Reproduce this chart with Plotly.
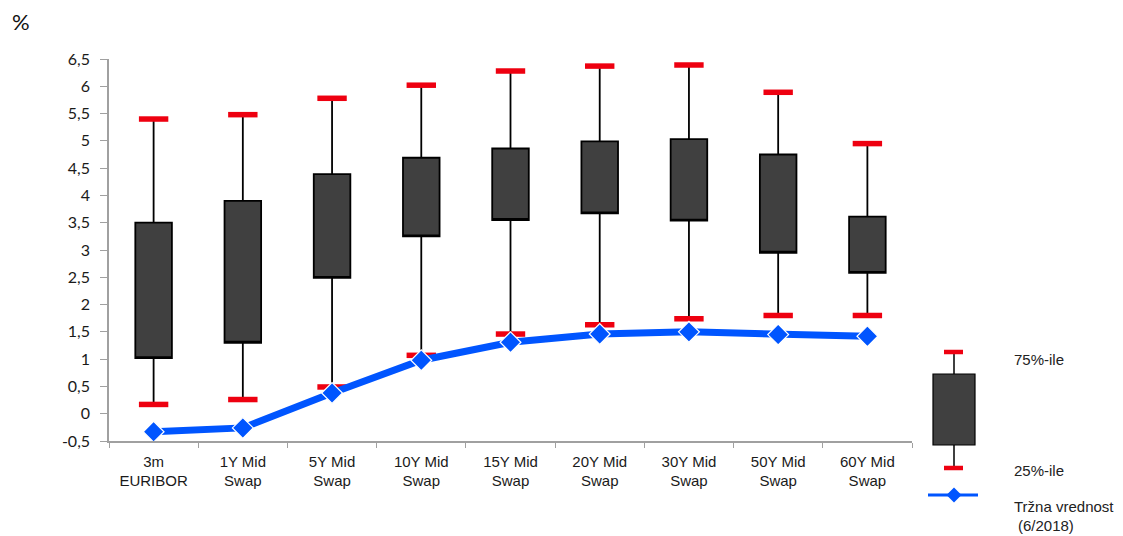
import plotly.graph_objects as go

categories = ["3m<br>EURIBOR", "1Y Mid<br>Swap", "5Y Mid<br>Swap", "10Y Mid<br>Swap", "15Y Mid<br>Swap",
              "20Y Mid<br>Swap", "30Y Mid<br>Swap", "50Y Mid<br>Swap", "60Y Mid<br>Swap"]
max_vals = [5.40, 5.48, 5.78, 6.02, 6.28, 6.37, 6.39, 5.89, 4.95]
q3_vals = [3.50, 3.90, 4.39, 4.69, 4.86, 4.99, 5.03, 4.75, 3.61]
q1_vals = [1.02, 1.30, 2.49, 3.25, 3.55, 3.67, 3.54, 2.95, 2.58]
min_vals = [0.17, 0.26, 0.49, 1.07, 1.46, 1.63, 1.74, 1.80, 1.80]
market_vals = [-0.33, -0.26, 0.38, 0.98, 1.31, 1.46, 1.50, 1.45, 1.42]
ytick_vals = [-0.5, 0, 0.5, 1, 1.5, 2, 2.5, 3, 3.5, 4, 4.5, 5, 5.5, 6, 6.5]
ytick_text = ["-0,5", "0", "0,5", "1", "1,5", "2", "2,5", "3", "3,5", "4", "4,5", "5", "5,5", "6", "6,5"]

BOX_FILL = "#404040"
RED = "#ee0010"
BLUE = "#0055ff"

fig = go.Figure()

fig.add_trace(go.Box(
    x=categories, q1=q1_vals, median=q1_vals, q3=q3_vals,
    lowerfence=min_vals, upperfence=max_vals,
    fillcolor=BOX_FILL, line=dict(color="black", width=1.8),
    whiskerwidth=0, width=0.41, boxpoints=False, showlegend=False, hoverinfo="skip"))

fig.add_trace(go.Scatter(
    x=categories + categories, y=max_vals + min_vals, mode="markers",
    marker=dict(symbol="line-ew", size=21, line=dict(color=RED, width=5.5)),
    showlegend=False, hoverinfo="skip"))

fig.add_trace(go.Scatter(
    x=categories, y=market_vals, mode="lines+markers",
    line=dict(color=BLUE, width=7),
    marker=dict(symbol="diamond", size=16, color=BLUE, line=dict(color="white", width=1.2)),
    showlegend=False))

OFF = 8  # page body margin
W, H = 1123, 536
L, T = 109 - OFF, 59 - OFF
R = W - (912 - OFF)
B = H - (441 - OFF)
pw, ph = W - L - R, H - T - B

def px(x):
    return (x - OFF - L) / pw

def py(y):
    return (H - B - (y - OFF)) / ph

shapes = [
    dict(type="line", xref="paper", yref="paper", x0=px(954), x1=px(954), y0=py(352), y1=py(468),
         line=dict(color="black", width=1.5)),
    dict(type="rect", xref="paper", yref="paper", x0=px(933), x1=px(975), y0=py(374), y1=py(445),
         fillcolor=BOX_FILL, line=dict(color="black", width=1.2)),
    dict(type="line", xref="paper", yref="paper", x0=px(944), x1=px(963), y0=py(352), y1=py(352),
         line=dict(color=RED, width=4.5)),
    dict(type="line", xref="paper", yref="paper", x0=px(944), x1=px(963), y0=py(468), y1=py(468),
         line=dict(color=RED, width=4.5)),
    dict(type="line", xref="paper", yref="paper", x0=px(928), x1=px(978), y0=py(495), y1=py(495),
         line=dict(color=BLUE, width=3)),
    dict(type="path", xref="paper", yref="paper",
         path=f"M {px(954)},{py(487.5)} L {px(961.5)},{py(495)} L {px(954)},{py(502.5)} L {px(946.5)},{py(495)} Z",
         fillcolor=BLUE, line=dict(color=BLUE, width=0)),
]

font_leg = dict(family="Liberation Sans, Arial", size=15, color="#222222")
annotations = [
    dict(text="%", xref="paper", yref="paper", x=px(10), y=py(22), xanchor="left", yanchor="middle",
         showarrow=False, font=dict(family="Lato, Liberation Sans", size=22, color="#111111")),
    dict(text="75%-ile", xref="paper", yref="paper", x=px(1012), y=py(359), xanchor="left", yanchor="middle",
         showarrow=False, font=font_leg),
    dict(text="25%-ile", xref="paper", yref="paper", x=px(1012), y=py(470), xanchor="left", yanchor="middle",
         showarrow=False, font=font_leg),
    dict(text="Tržna vrednost", xref="paper", yref="paper", x=px(1012), y=py(506), xanchor="left", yanchor="middle",
         showarrow=False, font=font_leg),
    dict(text="(6/2018)", xref="paper", yref="paper", x=px(1016), y=py(525), xanchor="left", yanchor="middle",
         showarrow=False, font=font_leg),
]

fig.update_layout(
    width=W, height=H,
    margin=dict(l=L, r=R, t=T, b=B, autoexpand=False),
    paper_bgcolor="white", plot_bgcolor="white",
    shapes=shapes, annotations=annotations,
    showlegend=False,
    xaxis=dict(type="category", showline=True, linecolor="#a0a0a0", linewidth=1.5,
               ticks="outside", tickson="boundaries", ticklen=5, tickcolor="#a0a0a0",
               ticklabelstandoff=6,
               showgrid=False, tickfont=dict(family="Liberation Sans, Arial", size=15, color="#1a1a1a"),
               range=[-0.5, 8.5]),
    yaxis=dict(range=[-0.5, 6.5], tickvals=ytick_vals, ticktext=ytick_text, showline=True,
               linecolor="#a0a0a0", linewidth=1.5, ticks="outside", ticklen=7, tickcolor="#a0a0a0",
               ticklabelstandoff=7,
               showgrid=False, zeroline=False,
               tickfont=dict(family="Lato, Liberation Sans", size=16, color="#1a1a1a")),
)

fig.write_html("out.html")
